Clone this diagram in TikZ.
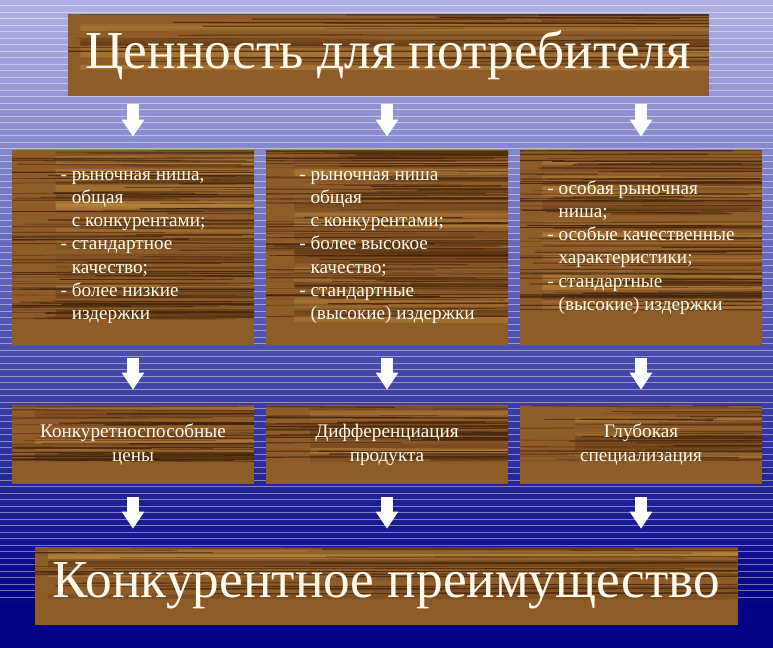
\documentclass[tikz,border=0pt]{standalone}
\usepackage{fontspec}
\setmainfont{Liberation Serif}
\usetikzlibrary{arrows.meta}

\definecolor{bgtop}{RGB}{176,176,226}
\definecolor{bgbot}{RGB}{2,2,134}
\definecolor{woodmid}{RGB}{142,92,40}
\definecolor{wooddark}{RGB}{66,36,10}
\definecolor{woodlight}{RGB}{190,138,66}
\definecolor{cream}{RGB}{255,250,236}

% random grain of a plank, #1 = width, #2 = height (px)
\newcommand{\woodgrain}[2]{%
  \begin{scope}[shift={(path picture bounding box.north west)}]
    % soft bands
    \pgfmathtruncatemacro\nband{#2/4}
    \foreach \k in {1,...,\nband}{%
      \pgfmathsetmacro\yy{rnd*#2}%
      \pgfmathsetmacro\lw{1.5+rnd*3.5}%
      \pgfmathsetmacro\op{0.2+rnd*0.35}%
      \pgfmathtruncatemacro\kind{mod(\k,2)}%
      \ifnum\kind=0
        \draw[woodlight, line width=\lw pt, opacity=\op] (-5,\yy) -- ++(#1+10,rnd*3-1.5);
      \else
        \draw[wooddark, line width=\lw pt, opacity=\op*0.6] (-5,\yy) -- ++(#1+10,rnd*3-1.5);
      \fi}
    % fine dark lines
    \pgfmathtruncatemacro\nst{#2/1.3}
    \foreach \k in {1,...,\nst}{%
      \pgfmathsetmacro\yy{rnd*#2}%
      \pgfmathsetmacro\xs{rnd*#1-120}%
      \pgfmathsetmacro\len{120+rnd*#1}%
      \pgfmathsetmacro\lw{0.2+rnd*0.9}%
      \pgfmathsetmacro\op{0.3+rnd*0.6}%
      \draw[wooddark, line width=\lw pt, opacity=\op, line cap=round] (\xs,\yy) -- ++(\len,rnd*2-1);}
  \end{scope}}

\tikzset{
  woodbox/.style 2 args={inner sep=0pt, fill=woodmid, text=cream,
    minimum width={#1*0.75pt}, minimum height={#2*0.75pt},
    path picture={\woodgrain{#1}{#2}}},
  bigtext/.style={font=\fontsize{40}{48}\selectfont},
  smalltext/.style={font=\fontsize{14.4}{17.4}\selectfont, align=left},
  stratext/.style={font=\fontsize{14.4}{18}\selectfont, align=center},
  downarrow/.style={draw=white, line width=9pt,
    -{Triangle[length=12.75pt, width=16pt]}},
  stripe/.style={white, opacity=0.42, line width=0.6pt}
}

\pgfmathsetseed{4711}

\begin{document}
\begin{tikzpicture}[x=0.75pt,y=0.75pt,yscale=-1,xscale=1]
  \useasboundingbox (0,0) rectangle (773,647);

  % background with stripes
  \foreach \i in {0,...,99}{
    \pgfmathsetmacro\yt{\i*6.5}
    \pgfmathtruncatemacro\p{min(100,\yt/6.0)}
    \fill[bgbot!\p!bgtop] (0,\yt) rectangle (773,\yt+6.6);
    \ifnum\i<92 \draw[stripe] (0,\yt+5.8) -- (773,\yt+5.8); \fi
  }

  % planks
  \node[woodbox={641}{82}, bigtext] (title) at (388.5,55) {Ценность для потребителя};

  \node[woodbox={242}{195}, smalltext] (feat1) at (133,247.5)
    {- рыночная ниша,\\ \hphantom{- }общая\\ \hphantom{- }с конкурентами;\\
     - стандартное\\ \hphantom{- }качество;\\ - более низкие\\ \hphantom{- }издержки};
  \node[woodbox={242}{195}, smalltext] (feat2) at (387,247.5)
    {- рыночная ниша\\ \hphantom{- }общая\\ \hphantom{- }с конкурентами;\\
     - более высокое\\ \hphantom{- }качество;\\ - стандартные\\ \hphantom{- }(высокие) издержки};
  \node[woodbox={242}{195}, smalltext] (feat3) at (641,247.5)
    {- особая рыночная\\ \hphantom{- }ниша;\\ - особые качественные\\
     \hphantom{- }характеристики;\\ - стандартные\\ \hphantom{- }(высокие) издержки};

  \node[woodbox={242}{79}, stratext] (strat1) at (133,444.5) {Конкуретноспособные\\цены};
  \node[woodbox={242}{79}, stratext] (strat2) at (387,444.5) {Дифференциация\\продукта};
  \node[woodbox={242}{79}, stratext] (strat3) at (641,444.5) {Глубокая\\специализация};

  \node[woodbox={703}{78}, bigtext] (adv) at (386.5,586) {Конкурентное преимущество};

  % arrows
  \foreach \n in {1,2,3}{
    \draw[downarrow, shorten <=6pt, shorten >=9.75pt] (title.south -| feat\n.north) -- (feat\n.north);
    \draw[downarrow, shorten <=9.75pt, shorten >=11.25pt] (feat\n.south) -- (strat\n.north);
    \draw[downarrow, shorten <=9.75pt, shorten >=13.5pt] (strat\n.south) -- (adv.north -| strat\n.south);
  }
\end{tikzpicture}
\end{document}
